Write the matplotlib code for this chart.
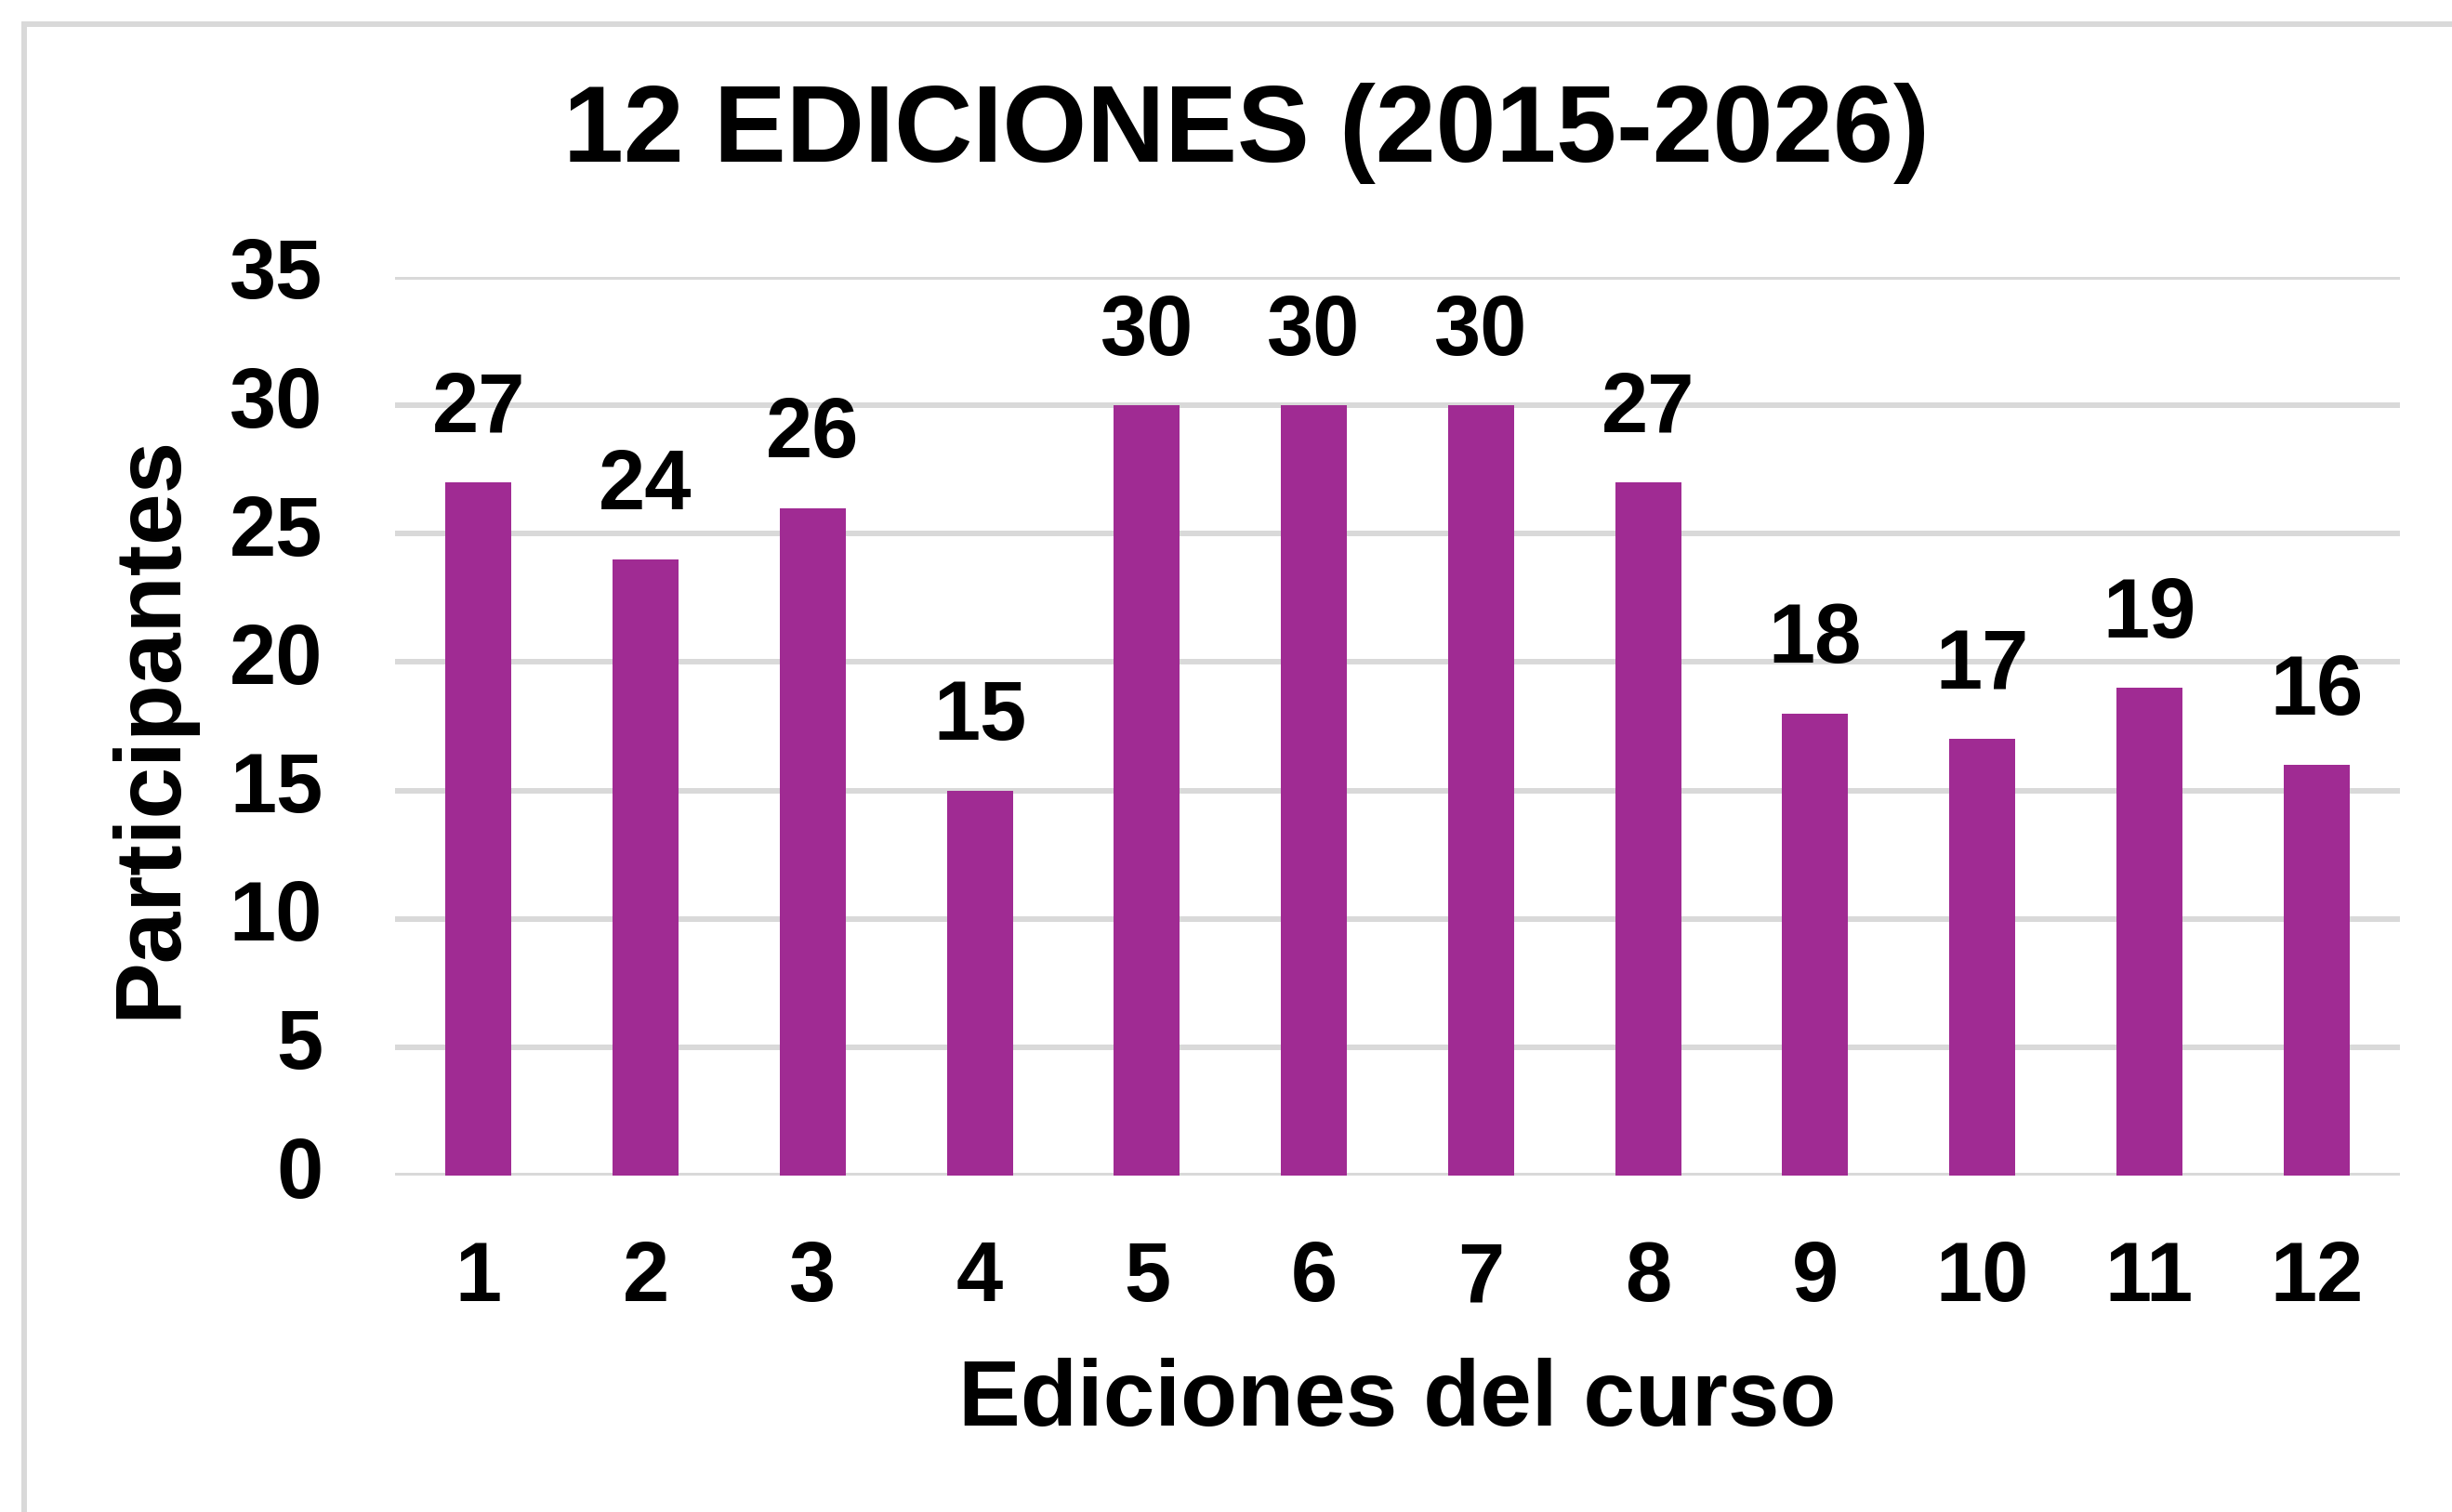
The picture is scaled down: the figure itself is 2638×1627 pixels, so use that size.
import matplotlib
matplotlib.use('Agg')
import matplotlib.pyplot as plt
from matplotlib.patches import Rectangle

# Data
ediciones = ['1', '2', '3', '4', '5', '6', '7', '8', '9', '10', '11', '12']
participantes = [27, 24, 26, 15, 30, 30, 30, 27, 18, 17, 19, 16]
titulo = '12 EDICIONES (2015-2026)'
y_ticks = [0, 5, 10, 15, 20, 25, 30, 35]

plt.rcParams['font.family'] = ['Liberation Sans', 'DejaVu Sans']
plt.rcParams['font.weight'] = 'bold'

W, H = 2638, 1627
dpi = 100
fig = plt.figure(figsize=(W / dpi, H / dpi), dpi=dpi)
fig.patch.set_facecolor('white')

# chart-area border (runs off the right and bottom edges)
fig.patches.append(Rectangle((26 / W, -0.05), 1.1, 1 - 26 / H + 0.05,
                             transform=fig.transFigure, fill=False,
                             edgecolor='#D9D9D9', linewidth=4.3))

left, right = 425, 2582
top, bottom = 298, 1265
ax = fig.add_axes([left / W, 1 - bottom / H, (right - left) / W, (bottom - top) / H])

xs = list(range(1, len(ediciones) + 1))
ax.bar(xs, participantes, width=0.395, color='#A02B93', zorder=3)

ax.set_xlim(0.5, len(ediciones) + 0.5)
ax.set_ylim(0, 35)
ax.set_yticks(y_ticks)
ax.set_xticks(xs)
ax.set_xticklabels(ediciones)
ax.yaxis.grid(True, color='#D9D9D9', linewidth=4.3, zorder=0)
ax.set_axisbelow(True)
for s in ax.spines.values():
    s.set_visible(False)
ax.tick_params(axis='both', length=0, labelsize=65)
ax.tick_params(axis='y', pad=56)
ax.tick_params(axis='x', pad=50)
for lbl in ax.get_xticklabels() + ax.get_yticklabels():
    lbl.set_fontweight('bold')
for lbl in ax.get_yticklabels():
    lbl.set_verticalalignment('center')
    lbl.set_y(lbl.get_position()[1])

for x, v in zip(xs, participantes):
    ax.annotate(str(v), (x, v), xytext=(0, 56), textcoords='offset points',
                ha='center', va='center', fontsize=65, fontweight='bold')

ax.set_xlabel('Ediciones del curso', fontsize=72, fontweight='bold', labelpad=30)
ax.set_ylabel('Participantes', fontsize=72, fontweight='bold', labelpad=27)

fig.text(1341 / W, 1 - 143 / H, titulo, ha='center', va='center',
         fontsize=84, fontweight='bold')

fig.savefig('out.png', dpi=dpi)
